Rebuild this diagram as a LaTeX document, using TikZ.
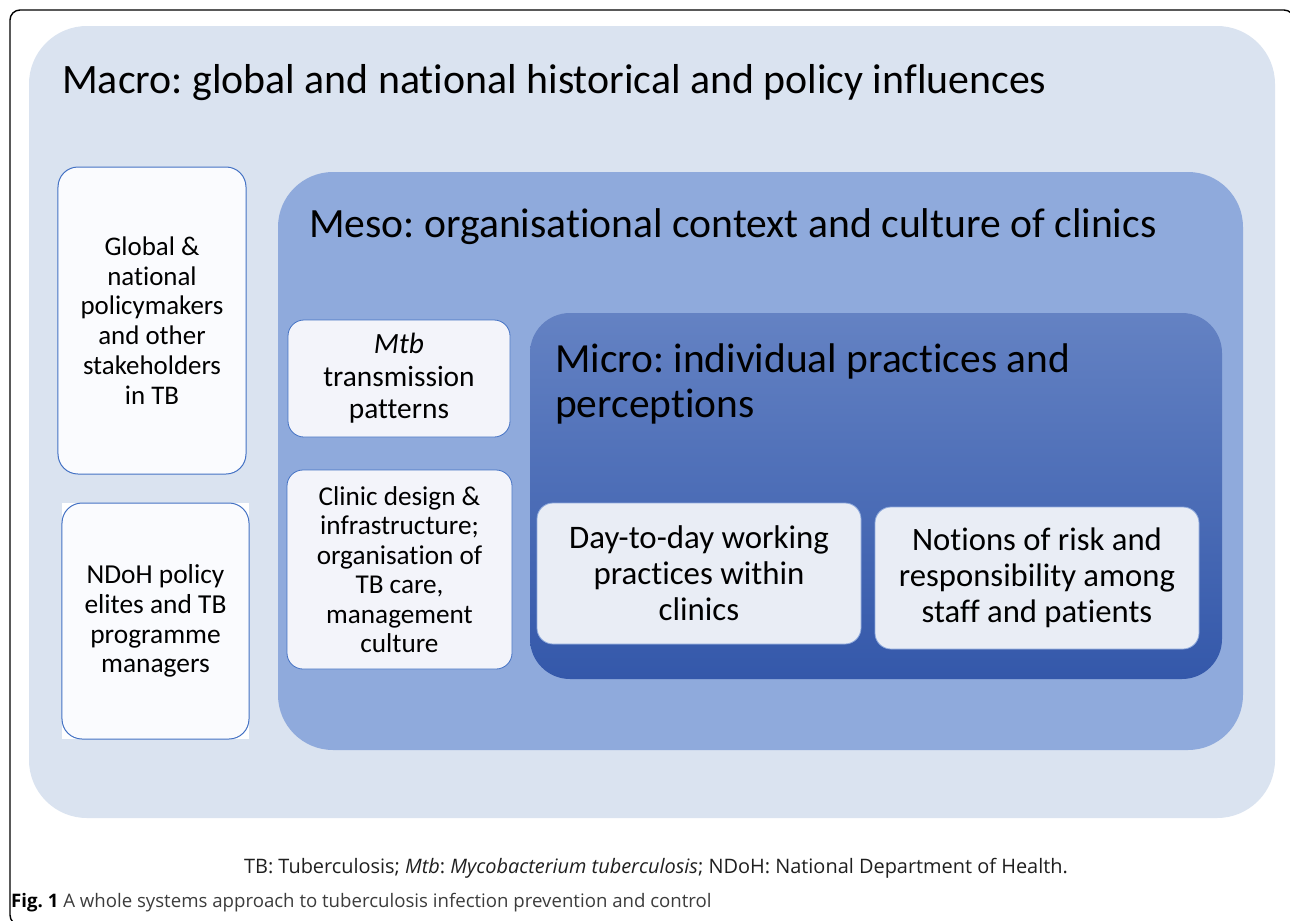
\documentclass[tikz,border=0pt]{standalone}
\usepackage{fontspec}
\setmainfont{Carlito}[Ligatures=NoCommon]
\newfontfamily\capfont{Open Sans}
\usetikzlibrary{positioning}
\frenchspacing

\definecolor{macrofill}{RGB}{218,227,240}
\definecolor{mesofill}{RGB}{143,170,220}
\definecolor{microtop}{RGB}{100,130,195}
\definecolor{microbot}{RGB}{52,88,170}
\definecolor{boxedge}{RGB}{68,114,196}
\definecolor{whitebox}{RGB}{250,251,254}
\definecolor{mesobox}{RGB}{243,244,250}
\definecolor{microbox}{RGB}{233,237,245}
\definecolor{capgray}{RGB}{60,60,60}

\tikzset{
  title/.style={anchor=base west, inner sep=0pt, align=left},
  sidebox/.style={draw=boxedge, line width=1bp, fill=whitebox, rounded corners=20bp},
  mesoitem/.style={draw=boxedge, line width=0.8bp, fill=mesobox, rounded corners=16bp},
  microitem/.style={draw=mesofill, line width=0.8bp, fill=microbox, rounded corners=16bp},
  boxtext/.style={align=center, inner sep=0pt}
}

\begin{document}
\begin{tikzpicture}[x=1bp, y=-1bp]
\useasboundingbox (0,0) rectangle (1290,921);
\fill[white] (0,0) rectangle (1290,921);

% outer frame
\draw[line width=1.4bp, rounded corners=10bp] (10,10) rectangle (1294,925);

% macro level
\fill[macrofill, rounded corners=58bp] (29,26) rectangle (1275,818);
\node[title, font=\fontsize{42}{50}\selectfont] (macro) at (62,93)
  {Macro: global and national historical and policy influences};

% actors at macro level
\node[sidebox, minimum width=188bp, minimum height=307bp] (global) at (152,320.5) {};
\node[boxtext, font=\fontsize{27}{29.8}\selectfont] (globaltxt) at (global.center)
  {Global \&\\national\\policymakers\\and other\\stakeholders\\in TB};
\fill[white] (62,503) rectangle (249,739);
\node[sidebox, minimum width=187bp, minimum height=236bp] (ndoh) at (155.5,621) {};
\node[boxtext, font=\fontsize{27.5}{29.8}\selectfont] (ndohtxt) at (ndoh.center)
  {NDoH policy\\elites and TB\\programme\\managers};

% meso level
\fill[mesofill, rounded corners=55bp] (278,172) rectangle (1243,750);
\node[title, font=\fontsize{41.8}{50}\selectfont] (meso) at (309,237)
  {Meso: organisational context and culture of clinics};

\node[mesoitem, minimum width=222bp, minimum height=117bp] (mtb) at (399,378.5) {};
\node[boxtext, font=\fontsize{29.5}{32.5}\selectfont] (mtbtxt) at (mtb.center)
  {\itshape Mtb\\transmission\\patterns};
\node[mesoitem, minimum width=225bp, minimum height=199bp] (clinic) at (399.5,569.5) {};
\node[boxtext, font=\fontsize{27.3}{29.6}\selectfont] (clinictxt) at (clinic.center)
  {Clinic design \&\\infrastructure;\\organisation of\\TB care,\\management\\culture};

% micro level
\shade[top color=microtop, bottom color=microbot, rounded corners=40bp]
  (530,313) rectangle (1222,679);
\node[title, font=\fontsize{41.6}{45}\selectfont] (micro) at (555,417)
  {Micro: individual practices and\\perceptions};

\node[microitem, minimum width=324bp, minimum height=141bp] (daily) at (699,573.5) {};
\node[boxtext, font=\fontsize{33}{36}\selectfont] (dailytxt) at (daily.center)
  {Day-to-day working\\practices within\\clinics};
\node[microitem, minimum width=324bp, minimum height=142bp] (risk) at (1037,578) {};
\node[boxtext, font=\fontsize{32.8}{36}\selectfont] (risktxt) at (risk.center)
  {Notions of risk and\\responsibility among\\staff and patients};

% caption
\node[anchor=base, inner sep=0pt, font=\capfont\fontsize{20}{24}\selectfont, text=black!88] (note) at (656,873)
  {TB: Tuberculosis; \textit{Mtb}: \textit{Mycobacterium tuberculosis}; NDoH: National Department of Health.};
\node[anchor=base west, inner sep=0pt, font=\capfont\fontsize{18.7}{22}\selectfont, text=capgray] (caption) at (11,907)
  {\textcolor{black}{\bfseries Fig. 1} A whole systems approach to tuberculosis infection prevention and control};
\end{tikzpicture}
\end{document}
